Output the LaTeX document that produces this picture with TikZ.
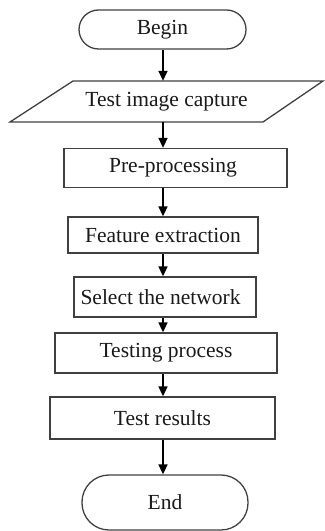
\documentclass[tikz,border=0pt]{standalone}
\usepackage{fontspec}
\setmainfont{Liberation Serif}
\usetikzlibrary{arrows.meta}
\begin{document}
\begin{tikzpicture}[x=1bp,y=-1bp,
  every node/.style={font=\fontsize{21.5bp}{24bp}\selectfont, text=black!90, inner sep=0pt},
  boxshape/.style={draw=black!75, line width=1.3bp, rectangle},
  term/.style={draw=black!75, line width=1.3bp, rectangle},
  arr/.style={draw=black, line width=1.6bp, -{Triangle[length=10bp,width=9bp]}}]
\useasboundingbox (0,0) rectangle (324,531);
\coordinate (axis) at (163,0);
% Begin
\node[term, rounded corners=19.5bp, minimum width=167bp, minimum height=39bp] (begin) at (162.5,29.5) {Begin};
% Parallelogram
\draw[draw=black!75, line width=1.3bp] (73,81) coordinate (pTL) -- (323,81) -- (263,122) -- (10,122) -- cycle;
\node[minimum width=190bp, minimum height=41bp] (capture) at (166.5,101.5) {Test image capture};
% Boxes
\node[boxshape, minimum width=223bp, minimum height=39bp] (pre) at (175.5,168) {\hspace*{-5bp}Pre-processing};
\node[boxshape, minimum width=190bp, minimum height=36bp] (feat) at (163,235) {Feature extraction};
\node[boxshape, minimum width=182bp, minimum height=40bp] (sel) at (165,297) {\hspace*{-9bp}Select the network};
\node[boxshape, minimum width=222bp, minimum height=40bp] (test) at (166,353) {Testing process};
\node[boxshape, minimum width=225bp, minimum height=42bp] (res) at (162.5,418) {Test results};
\node[term, rounded corners=27bp, minimum width=166bp, minimum height=55bp] (end) at (165,502.5) {End};
% Arrows
\draw[arr] (begin.south -| axis) -- (capture.north -| axis);
\draw[arr] (capture.south -| axis) -- (pre.north -| axis);
\draw[arr] (pre.south -| axis) -- (feat.north -| axis);
\draw[arr] (feat.south -| axis) -- (sel.north -| axis);
\draw[arr] (sel.south -| axis) -- (test.north -| axis);
\draw[arr] (test.south -| axis) -- (res.north -| axis);
\draw[arr] (res.south -| axis) -- (end.north -| axis);
\end{tikzpicture}
\end{document}
